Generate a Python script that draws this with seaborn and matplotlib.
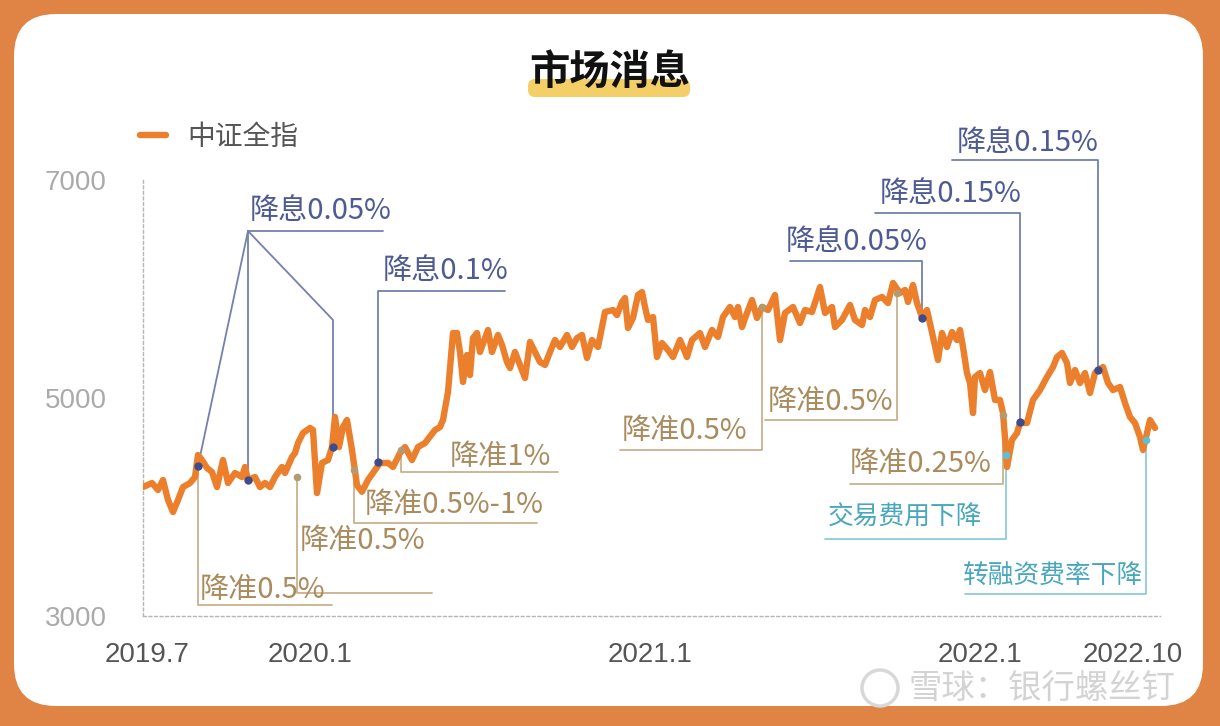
import numpy as np
import matplotlib
matplotlib.use('Agg')
import matplotlib.pyplot as plt
import seaborn as sns
from matplotlib.patches import FancyBboxPatch, Circle

# 中证全指: position along the chart (trading-day scale) and index level
day = [0, 9, 15, 20, 25, 30, 35, 40, 47, 52, 55, 59, 64, 69, 74, 80, 85, 92, 99, 102,
       105, 112, 117, 122, 127, 132, 139, 142, 149, 152, 155, 160, 167, 170, 174, 179, 185, 189, 192, 196,
       200, 204, 209, 214, 219, 225, 232, 237, 245, 250, 257, 262, 269, 275, 282, 292, 297, 300,
       305, 310, 314, 317, 320, 324, 327, 330, 334, 337, 342, 345, 349, 355, 359, 364, 367, 372, 377, 382,
       387, 392, 397, 402, 407, 412, 417, 424, 429, 434, 439, 444, 449, 455, 462, 470, 474, 479, 482, 485,
       490, 495, 499, 502, 505, 510, 514, 519, 525, 530, 537, 544, 549, 557, 562, 569, 575, 580, 587, 592,
       595, 599, 604, 609, 614, 619, 625, 632, 637, 642, 650, 657, 662, 669, 677, 682, 689, 692, 699, 707,
       712, 719, 722, 727, 732, 739, 745, 750, 757, 762, 765, 770, 774, 779, 784, 790, 795, 799, 804, 809,
       814, 817, 820, 824, 827, 830, 832, 837, 842, 847, 852, 857, 860, 863, 864, 869, 874,
       877, 884, 890, 897, 904, 910, 914, 919, 924, 927, 932, 937, 942, 947, 952, 955, 960, 965, 970, 977,
       982, 987, 992, 997, 1000, 1004, 1007, 1012]
level = [4183, 4220, 4156, 4248, 4064, 3954, 4064, 4183, 4220, 4275, 4477, 4431, 4358, 4321, 4183, 4431, 4220, 4312, 4275, 4367,
         4248, 4275, 4183, 4220, 4183, 4275, 4367, 4312, 4459, 4495, 4587, 4679, 4725, 4706, 4128, 4404, 4431, 4550, 4826, 4550,
         4734, 4798, 4523, 4200, 4140, 4248, 4339, 4404, 4404, 4367, 4495, 4550, 4431, 4550, 4587, 4706, 4734, 4798,
         5055, 5596, 5596, 5422, 5147, 5394, 5211, 5550, 5596, 5422, 5550, 5624, 5422, 5578, 5486, 5330, 5275, 5422, 5303, 5183,
         5514, 5422, 5330, 5303, 5422, 5532, 5468, 5578, 5468, 5550, 5578, 5367, 5532, 5468, 5789, 5807, 5761, 5881, 5917, 5642,
         5734, 5945, 5972, 5835, 5716, 5743, 5376, 5504, 5440, 5376, 5532, 5376, 5532, 5596, 5468, 5624, 5560, 5743, 5835, 5743,
         5835, 5651, 5780, 5899, 5734, 5835, 5807, 5945, 5532, 5780, 5835, 5688, 5807, 5789, 6018, 5780, 5835, 5651, 5716, 5853,
         5716, 5670, 5807, 5743, 5899, 5927, 5871, 6055, 5963, 5991, 5881, 6037, 5871, 5743, 5807, 5560, 5349, 5596, 5468, 5605,
         5532, 5624, 5468, 5229, 5138, 4862, 5193, 5229, 5073, 5238, 4982, 4982, 4862, 4523, 4367, 4615, 4679,
         4771, 4771, 4982, 5073, 5193, 5284, 5376, 5413, 5321, 5138, 5257, 5138, 5229, 5046, 5229, 5257, 5284, 5138, 5073, 5101,
         4954, 4826, 4771, 4642, 4523, 4679, 4798, 4725]

tick_pos = [4, 167, 507, 837, 990]
tick_lab = ['2019.7', '2020.1', '2021.1', '2022.1', '2022.10']
ytick_val = [3000, 5000, 7000]

# event markers (降息 / 降准 / 费用下降)
rate_cut_x = [55, 105, 190, 235, 779, 877, 955]
rate_cut_y = [4376, 4248, 4550, 4413, 5734, 4780, 5257]
rrr_cut_x = [154, 211, 258, 619, 754, 860]
rrr_cut_y = [4275, 4339, 4523, 5835, 5963, 4844]
fee_cut_x = [863, 1003]
fee_cut_y = [4477, 4615]

ORANGE = '#EC7F2C'
BLUE, BLUE_L = '#4E5A93', '#7480AE'
TAN, TAN_L = '#A98B5E', '#C8B28D'
CYAN, CYAN_L = '#48A6BD', '#8ECBDA'

sns.set_theme(style='white')
plt.rcParams['font.family'] = ['Noto Sans CJK SC', 'DejaVu Sans']

fig = plt.figure(figsize=(12.2, 7.26), dpi=100)
fig.patch.set_facecolor('#DF8444')
fig.patches.append(FancyBboxPatch((0.14, 0.20), 11.89, 6.92, boxstyle='round,pad=0,rounding_size=0.42',
                                  transform=fig.dpi_scale_trans, fc='white', ec='none', zorder=-2))
# title highlight
fig.patches.append(FancyBboxPatch((5.30, 6.31), 1.58, 0.14, boxstyle='round,pad=0.02,rounding_size=0.07',
                                  transform=fig.dpi_scale_trans, fc='#F4CF68', ec='none', zorder=-1))
fig.text(0.5, 0.900, '市场消息', fontsize=29, fontweight='bold', ha='center', va='center', color='#111111', zorder=2)

ax = fig.add_axes([0.11721, 0.15152, 0.83361, 0.60055])
ax.set_facecolor('none')
sns.lineplot(x=day, y=level, ax=ax, color=ORANGE, linewidth=4.6, label='中证全指', zorder=3)

ax.set_xlim(0, 1017)
ax.set_ylim(3000, 7000)
ax.set_xticks(tick_pos)
ax.set_xticklabels(tick_lab, fontsize=20, color='#555555', family='Liberation Sans')
ax.set_yticks(ytick_val)
ax.set_yticklabels([str(v) for v in ytick_val], fontsize=20, color='#AAAAAA', family='Liberation Sans')
ax.tick_params(axis='x', length=0, pad=19)
ax.tick_params(axis='y', length=0, pad=26)
ax.set_xlabel('')
ax.set_ylabel('')
for s in ['top', 'right']:
    ax.spines[s].set_visible(False)
for s in ['left', 'bottom']:
    ax.spines[s].set_color('#B5B5B5')
    ax.spines[s].set_linewidth(1)
    ax.spines[s].set_linestyle((0, (2, 2)))

ax.legend(frameon=False, loc='center left', bbox_to_anchor=(0.1148, 0.8113), bbox_transform=fig.transFigure,
          fontsize=20, handlelength=0.95, handletextpad=0.75, borderpad=0, borderaxespad=0,
          labelcolor='#555555')


def path(xs, ys, color):
    ax.plot(xs, ys, color=color, lw=1.3, clip_on=False, zorder=1)


def note(text, tx, ty, color, size=21):
    ax.text(tx, ty, text, color=color, fontsize=size, ha='left', va='center', clip_on=False, zorder=4)


# 降息
path([105, 240], [6532, 6532], BLUE_L)
path([55, 105], [rate_cut_y[0], 6532], BLUE_L)
path([105, 105], [rate_cut_y[1], 6532], BLUE_L)
path([190, 190, 105], [rate_cut_y[2], 5716, 6532], BLUE_L)
note('降息0.05%', 107, 6715, BLUE)
path([235, 235, 362], [rate_cut_y[3], 5982, 5982], BLUE_L)
note('降息0.1%', 240, 6165, BLUE)
path([779, 779, 647], [rate_cut_y[4], 6257, 6257], BLUE_L)
note('降息0.05%', 643, 6431, BLUE)
path([877, 877, 732], [rate_cut_y[5], 6697, 6697], BLUE_L)
note('降息0.15%', 737, 6871, BLUE)
path([955, 955, 809], [rate_cut_y[6], 7183, 7183], BLUE_L)
note('降息0.15%', 814, 7339, BLUE)

# 降准
path([55, 55, 189], [4339, 3101, 3101], TAN_L)
note('降准0.5%', 57, 3239, TAN)
path([154, 154, 289], [rrr_cut_y[0], 3211, 3211], TAN_L)
note('降准0.5%', 157, 3688, TAN)
path([211, 211, 394], [rrr_cut_y[1], 3853, 3853], TAN_L)
note('降准0.5%-1%', 222, 4018, TAN)
path([258, 258, 415], [rrr_cut_y[2], 4321, 4321], TAN_L)
note('降准1%', 307, 4459, TAN)
path([619, 619, 477], [rrr_cut_y[3], 4523, 4523], TAN_L)
note('降准0.5%', 479, 4697, TAN)
path([754, 754, 622], [rrr_cut_y[4], 4798, 4798], TAN_L)
note('降准0.5%', 625, 4963, TAN)
path([860, 860, 707], [rrr_cut_y[5], 4211, 4211], TAN_L)
note('降准0.25%', 707, 4394, TAN)

# 费用下降
path([863, 863, 682], [fee_cut_y[0], 3706, 3706], CYAN_L)
note('交易费用下降', 685, 3899, CYAN, 18.5)
path([1003, 1003, 822], [fee_cut_y[1], 3202, 3202], CYAN_L)
note('转融资费率下降', 820, 3367, CYAN, 18.5)

ax.scatter(rate_cut_x, rate_cut_y, s=36, color='#3E4C8A', zorder=5, linewidths=0)
ax.scatter(rrr_cut_x, rrr_cut_y, s=30, color='#B59A6E', zorder=5, linewidths=0)
ax.scatter(fee_cut_x, fee_cut_y, s=30, color='#5BC0D6', zorder=5, linewidths=0)

# watermark
fig.patches.append(Circle((8.80, 0.38), 0.18, transform=fig.dpi_scale_trans, fc='none', ec='#D8D8D8', lw=2.5, zorder=5))
fig.text(0.745, 0.052, '雪球：银行螺丝钉', fontsize=24, color='#D3D3D3', ha='left', va='center', zorder=5)

fig.savefig('out.png', dpi=100, facecolor=fig.get_facecolor())
